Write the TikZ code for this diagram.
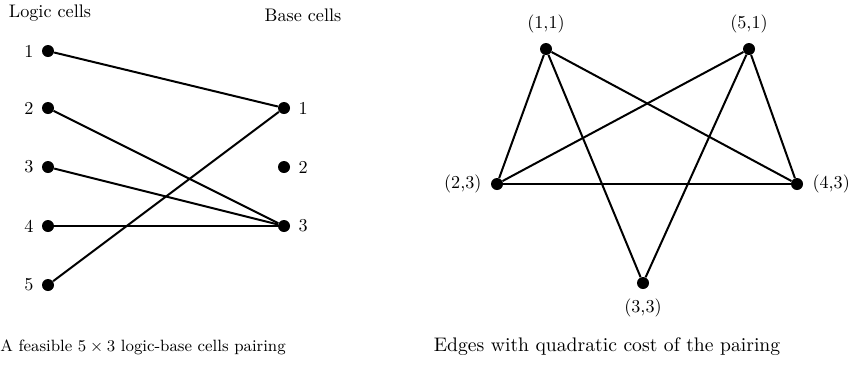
\documentclass[tikz,border=0pt]{standalone}
\usepackage{amsmath}
\usepackage{tikz}
\usetikzlibrary{positioning}

\begin{document}
\begin{tikzpicture}[x=0.55pt, y=-0.55pt,
    cell/.style={circle, fill=black, inner sep=0pt, minimum size=6.6pt},
    wire/.style={line width=1.1pt},
    pairlabel/.style={label distance=1.5pt}]
  \useasboundingbox (0,0) rectangle (852,377);

  % Logic cells and base cells
  \node (logichead) at (50,13) {Logic cells};
  \node (basehead) at (303,15) {Base cells};
  \foreach \i/\y in {1/51, 2/108, 3/167, 4/226, 5/285} {
    \node[cell, label={[label distance=1pt]left:\i}] (l\i) at (48,\y) {};
  }
  \foreach \j/\y in {1/108, 2/167, 3/226} {
    \node[cell, label={[label distance=1pt]right:\j}] (b\j) at (284,\y) {};
  }

  % Pairing
  \foreach \i/\j in {1/1, 2/3, 3/3, 4/3, 5/1} {
    \draw[wire] (l\i) -- (b\j);
  }

  % Quadratic cost graph
  \node[cell, label={[pairlabel]above:(1,1)}] (p11) at (546,49) {};
  \node[cell, label={[pairlabel]above:(5,1)}] (p51) at (749,49) {};
  \node[cell, label={[pairlabel]left:(2,3)}] (p23) at (497,184) {};
  \node[cell, label={[pairlabel]right:(4,3)}] (p43) at (797,184) {};
  \node[cell, label={[pairlabel]below:(3,3)}] (p33) at (643,283) {};
  \foreach \a/\b in {p11/p23, p11/p33, p11/p43, p51/p23, p51/p33, p51/p43, p23/p43} {
    \draw[wire] (\a) -- (\b);
  }

  % Captions
  \node[font=\fontsize{9}{11}\selectfont] (leftcap) at (143,347) {A feasible $5\times3$ logic-base cells pairing};
  \node[font=\fontsize{10.8}{13}\selectfont] (rightcap) at (607,347) {Edges with quadratic cost of the pairing};
\end{tikzpicture}
\end{document}
